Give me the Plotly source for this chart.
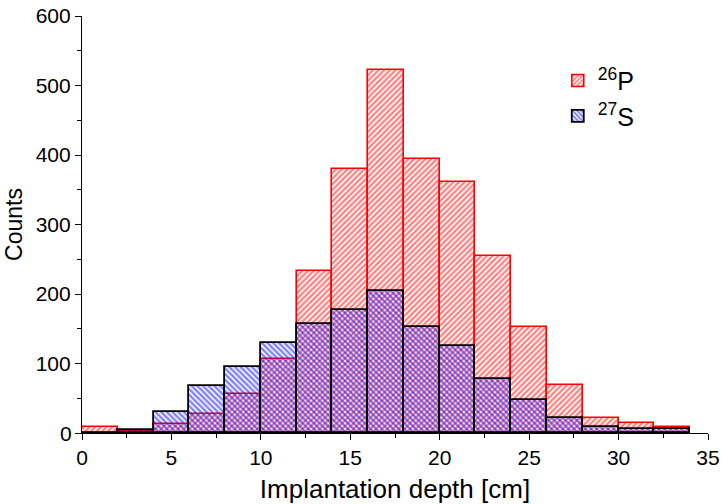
import plotly.graph_objects as go

bin_centers = [1, 3, 5, 7, 9, 11, 13, 15, 17, 19, 21, 23, 25, 27, 29, 31, 33]
bin_width = 2
counts_26P = [8, 3, 13, 27, 56, 106, 233, 380, 523, 394, 361, 254, 152, 69, 22, 14, 8]
counts_27S = [0, 4, 30, 68, 95, 130, 157, 177, 204, 153, 125, 77, 47, 22, 8, 6, 6]
x_ticks = [0, 5, 10, 15, 20, 25, 30, 35]
y_ticks = [0, 100, 200, 300, 400, 500, 600]
y_tick_labels = ["", "100", "200", "300", "400", "500", "600"]
y_zero_label = "0"

FONT = "Arial"

fig = go.Figure()
fig.add_trace(go.Bar(
    x=bin_centers, y=counts_26P, width=[bin_width] * len(bin_centers),
    name="<sup>26</sup>P",
    marker=dict(color="white", line=dict(color="red", width=1.6),
                pattern=dict(shape="/", fgcolor="red", bgcolor="white",
                             size=4, solidity=0.55, fillmode="overlay")),
))
fig.add_trace(go.Bar(
    x=bin_centers, y=counts_27S, width=[bin_width] * len(bin_centers),
    name="<sup>27</sup>S",
    marker=dict(color="rgba(0,0,0,0)", line=dict(color="black", width=1.8),
                pattern=dict(shape="\\", fgcolor="blue", bgcolor="rgba(0,0,0,0)",
                             size=4, solidity=0.6, fillmode="overlay")),
))

line_common = dict(showline=True, linecolor="black", linewidth=1.2, showgrid=False,
                   zeroline=False, tickcolor="black", ticklen=6, tickwidth=1.2,
                   automargin=False, ticklabeloverflow="allow")

fig.update_layout(
    width=722, height=504,
    margin=dict(l=82, r=14, t=16, b=71, autoexpand=False),
    paper_bgcolor="white", plot_bgcolor="white",
    barmode="overlay", bargap=0,
    font=dict(family=FONT, color="black", size=21),
    showlegend=True,
    legend=dict(x=0.76, y=0.90, xanchor="left", yanchor="top",
                font=dict(family=FONT, size=25, color="black"),
                bgcolor="rgba(0,0,0,0)", itemwidth=30),
    xaxis=dict(range=[0, 35], tickvals=x_ticks, ticks="outside",
               tickfont=dict(family=FONT, size=21, color="black"),
               minor=dict(dtick=2.5, tick0=0, ticks="outside", ticklen=3.5,
                          tickcolor="black", tickwidth=1.2),
               title=dict(text="Implantation depth [cm]",
                          font=dict(family=FONT, size=26, color="black"), standoff=13),
               **line_common),
    yaxis=dict(range=[0, 600], tickvals=y_ticks, ticktext=y_tick_labels, ticks="outside",
               tickfont=dict(family=FONT, size=21, color="black"),
               minor=dict(dtick=50, tick0=0, ticks="outside", ticklen=3.5,
                          tickcolor="black", tickwidth=1.2),
               title=dict(text="Counts", font=dict(family=FONT, size=23, color="black"),
                          standoff=6),
               **line_common),
    xaxis2=dict(overlaying="x", side="top", range=[0, 35], tickvals=x_ticks,
                ticks="inside", showticklabels=False,
                minor=dict(dtick=2.5, tick0=0, ticks="inside", ticklen=3.5,
                           tickcolor="black", tickwidth=1.2),
                **line_common),
    yaxis2=dict(overlaying="y", side="right", range=[0, 600], tickvals=y_ticks,
                ticks="inside", showticklabels=False,
                minor=dict(dtick=50, tick0=0, ticks="inside", ticklen=3.5,
                           tickcolor="black", tickwidth=1.2),
                **line_common),
    annotations=[dict(text=y_zero_label, x=-0.013, xref="paper", y=0, yref="paper",
                      xanchor="right", yanchor="middle", showarrow=False,
                      font=dict(family=FONT, size=21, color="black"))],
)

fig.write_html("out.html", config={"displayModeBar": False},
               post_script="document.body.style.margin='0';")
